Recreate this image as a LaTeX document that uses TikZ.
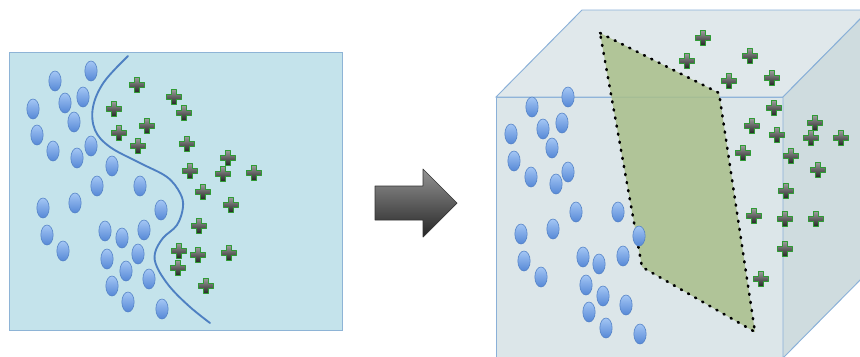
\documentclass[tikz,border=0pt]{standalone}
\usepackage{tikz}
\usetikzlibrary{shapes.geometric}

\definecolor{panelfill}{HTML}{C4E3EB}
\definecolor{paneledge}{HTML}{8EB4D6}
\definecolor{curveblue}{HTML}{4E80C2}
\definecolor{dottop}{HTML}{A4C6F4}
\definecolor{dotbot}{HTML}{5588D6}
\definecolor{dotedge}{HTML}{5382C6}
\definecolor{plustop}{HTML}{9A9A9A}
\definecolor{plusbot}{HTML}{262626}
\definecolor{plusedge}{HTML}{2E9B34}
\definecolor{arrtop}{HTML}{939393}
\definecolor{arrbot}{HTML}{262626}
\definecolor{cubefront}{HTML}{DCE6E9}
\definecolor{cubetop}{HTML}{E0E8EB}
\definecolor{cubeside}{HTML}{CFDCDF}
\definecolor{cubeedge}{HTML}{8AB0D8}
\definecolor{planegreen}{HTML}{A9BF8A}

\begin{document}
\begin{tikzpicture}[x=0.03cm,y=-0.03cm,
    neg/.style={ellipse,draw=dotedge,line width=0.5pt,top color=dottop,bottom color=dotbot,
      minimum width=0.37cm,minimum height=0.6cm,inner sep=0pt},
    pos/.pic={\shade[draw=plusedge,line width=1.3pt,line join=round,top color=plustop,bottom color=plusbot]
      (-2.5,-7.3)--(2.5,-7.3)--(2.5,-2.5)--(7.3,-2.5)--(7.3,2.5)--(2.5,2.5)--(2.5,7.3)--(-2.5,7.3)
      --(-2.5,2.5)--(-7.3,2.5)--(-7.3,-2.5)--(-2.5,-2.5)--cycle;}]
  \useasboundingbox (0,0) rectangle (860,356);
  \clip (0,0) rectangle (860,356);

  % left panel: curved boundary between the two classes
  \draw[paneledge,fill=panelfill,line width=0.8pt] (9,52) rectangle (342,330);
  \draw[curveblue,line width=1.6pt,line cap=round] plot[smooth,tension=0.6] coordinates
    {(128,56) (104,82) (93,107) (95,130) (110,147) (140,163) (167,177) (180,193) (183,207)
     (177,225) (163,238) (155,253) (157,267) (170,287) (190,307) (210,323)};
  \foreach \x/\y [count=\i] in {91/71,55/81,83/97,65/103,33/109,74/122,37/135,91/146,53/151,
      77/158,112/166,97/186,140/186,75/203,43/208,161/210,105/231,144/230,122/238,47/235,
      63/251,138/254,107/259,126/271,149/279,112/286,128/302,162/309}
    \node[neg] (l\i) at (\x,\y) {};
  \foreach \x/\y in {137/85,174/97,114/109,184/113,147/126,119/133,138/146,187/144,228/158,
      190/171,223/174,254/173,203/192,231/205,199/226,179/251,198/255,229/253,178/268,206/286}
    \pic at (\x,\y) {pos};

  % block arrow
  \shade[draw=black!80,line width=0.6pt,line join=round,top color=arrtop,bottom color=arrbot]
    (375,186) -- (423,186) -- (423,169) -- (457,203) -- (423,237) -- (423,220) -- (375,220) -- cycle;

  % right: cube with separating plane
  \draw[cubeedge,fill=cubefront,line width=0.8pt] (496,97) rectangle (783,358);
  \draw[cubeedge,fill=cubetop,line width=0.8pt] (496,97) -- (582,10) -- (869,10) -- (783,97) -- cycle;
  \draw[cubeedge,fill=cubeside,line width=0.8pt] (783,97) -- (869,10) -- (869,271) -- (783,358) -- cycle;
  \draw[fill=planegreen,fill opacity=0.85,line width=2.2pt,line cap=round,dash pattern=on 1pt off 6pt]
    (600,33) -- (719,93) -- (755,332) -- (642,267) -- cycle;
  \foreach \x/\y [count=\i] in {568/97,532/107,562/123,543/129,511/134,552/148,514/161,568/172,
      531/177,556/184,576/212,618/212,553/229,521/234,639/236,524/261,583/257,599/264,623/256,
      541/277,586/285,603/296,626/305,589/312,606/328,640/334}
    \node[neg] (r\i) at (\x,\y) {};
  \foreach \x/\y in {703/38,687/61,750/56,729/81,772/78,774/108,752/126,777/135,815/123,811/138,
      841/138,743/153,791/156,818/170,786/191,754/216,785/219,816/219,785/249,761/279}
    \pic at (\x,\y) {pos};
\end{tikzpicture}
\end{document}
